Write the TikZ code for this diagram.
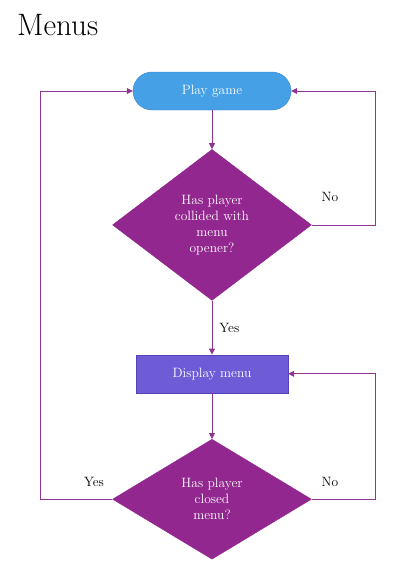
\documentclass[tikz,border=0pt]{standalone}
\usepackage{tikz}
\usetikzlibrary{arrows.meta, positioning, shapes.geometric}

\definecolor{playblue}{HTML}{45A0E6}
\definecolor{playedge}{HTML}{3A86C4}
\definecolor{menupurple}{HTML}{92278F}
\definecolor{boxviolet}{HTML}{6E5CD6}
\definecolor{boxedge}{HTML}{5443B8}
\definecolor{flowline}{HTML}{8E3593}

\begin{document}
\begin{tikzpicture}[
  x=1pt, y=1pt,
  every node/.style={font=\fontsize{13.5}{16}\selectfont, inner sep=1pt},
  terminal/.style={rectangle, rounded corners=19pt, draw=playedge, fill=playblue,
    text=white, minimum width=158pt, minimum height=38pt},
  process/.style={rectangle, draw=boxedge, fill=boxviolet, text=white,
    minimum width=152pt, minimum height=38pt},
  decision/.style={diamond, draw=menupurple, fill=menupurple, text=white,
    align=center, inner sep=0pt, minimum width=199pt},
  flow/.style={draw=flowline, line width=0.8pt, -{Triangle[length=6pt,width=6pt]}},
  answer/.style={text=black}
]
\useasboundingbox (0,0) rectangle (405,-582);

\node[anchor=west, font=\fontsize{31}{36}\selectfont] (title) at (16,-25) {Menus};

\node[terminal] (play) at (212,-91) {Play game};
\node[decision, minimum height=151pt, below=39pt of play] (collide)
  {Has player\\collided with\\menu\\opener?};
\node[process, below=54pt of collide] (menu) {Display menu};
\node[decision, minimum height=120pt, below=46pt of menu] (closed)
  {Has player\\closed\\menu?};

% loop corners
\coordinate (c1) at (375,0 |- collide.east);
\coordinate (c2) at (375,0 |- play.east);
\coordinate (c3) at (375,0 |- closed.east);
\coordinate (c4) at (375,0 |- menu.east);
\coordinate (c5) at (40,0 |- closed.west);
\coordinate (c6) at (40,0 |- play.west);

\draw[flow] (play) -- (collide);
\draw[flow] (collide) -- node[answer, right=6pt] {Yes} (menu);
\draw[flow] (menu) -- (closed);
\draw[flow] (collide.east) -- (c1) -- (c2) -- (play.east);
\draw[flow] (closed.east) -- (c3) -- (c4) -- (menu.east);
\draw[flow] (closed.west) -- (c5) -- (c6) -- (play.west);

\node[answer] (no1) at (330,-197) {No};
\node[answer] (no2) at (330,-482) {No};
\node[answer] (yes2) at (94,-482) {Yes};
\end{tikzpicture}
\end{document}
